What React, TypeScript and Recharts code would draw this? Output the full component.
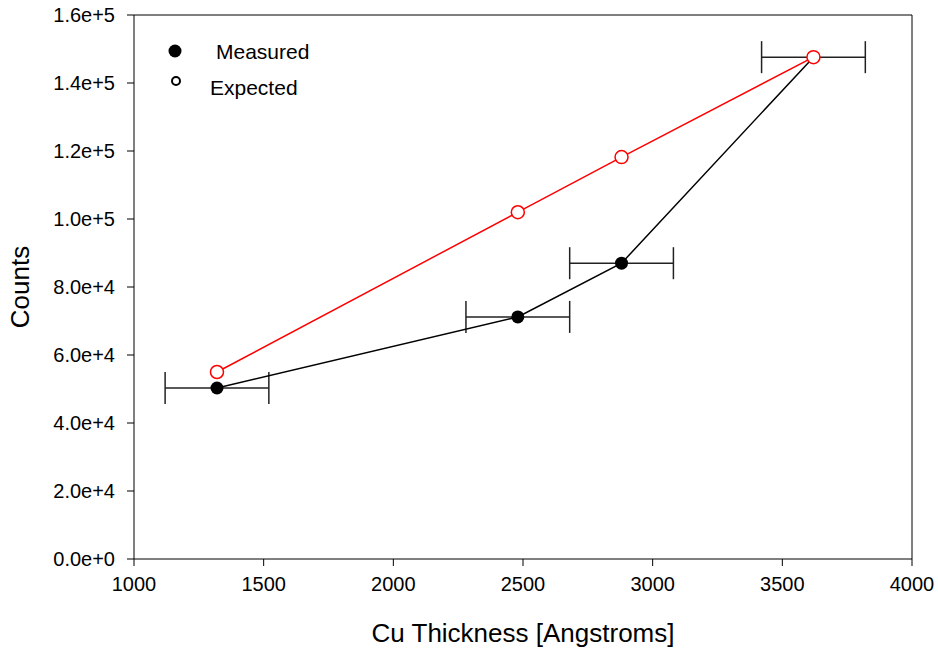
import { ScatterChart, Scatter, XAxis, YAxis, ErrorBar, ReferenceLine, Label } from "recharts"

const thickness = [1320, 2480, 2880, 3620]
const measured = [50300, 71200, 87000, 147600]
const expected = [55000, 102000, 118200, 147600]
const thicknessErr = [200, 200, 200, 200]
const xTicks = [1000, 1500, 2000, 2500, 3000, 3500, 4000]
const yTicks = [0, 20000, 40000, 60000, 80000, 100000, 120000, 140000, 160000]

const measuredData = thickness.map((x, i) => ({ x, y: measured[i], err: thicknessErr[i] }))
const expectedData = thickness.map((x, i) => ({ x, y: expected[i] }))

const font = "Arial, 'Liberation Sans', sans-serif"

const formatSci = (v: number) => {
  if (v === 0) return "0.0e+0"
  const exp = Math.floor(Math.log10(v))
  const mant = v / Math.pow(10, exp)
  return `${mant.toFixed(1)}e+${exp}`
}

const FilledDot = (props: any) => <circle cx={props.cx} cy={props.cy} r={6.5} fill="#000" />
const OpenDot = (props: any) => (
  <circle cx={props.cx} cy={props.cy} r={6.5} fill="#fff" stroke="#ff0000" strokeWidth={1.5} />
)

// legend drawn as an overlay, top-left inside the frame
const LegendBox = () => (
  <svg width={320} height={110} style={{ position: "absolute", left: 0, top: 0, fontFamily: font, pointerEvents: "none" }}>
    <circle cx={175} cy={51} r={6.5} fill="#000" />
    <text x={216} y={59} fontSize={21} fill="#000">Measured</text>
    <circle cx={176} cy={81} r={4} fill="#fff" stroke="#000" strokeWidth={2} />
    <text x={210} y={95} fontSize={21} fill="#000">Expected</text>
  </svg>
)

export default function App() {
  return (
    <div style={{ position: "absolute", left: 0, top: 0, width: 938, height: 654, background: "#fff" }}>
      <ScatterChart width={938} height={654} margin={{ top: 15, right: 26, bottom: 0, left: 0 }}>
        <XAxis
          type="number"
          dataKey="x"
          domain={[1000, 4000]}
          ticks={xTicks}
          height={95}
          stroke="#000"
          tickSize={7}
          tick={{ fill: "#000", fontSize: 20, fontFamily: font }}
          tickMargin={11}
          allowDataOverflow
        >
          <Label value="Cu Thickness [Angstroms]" position="insideBottom" offset={12} style={{ fontSize: 26, fill: "#000", fontFamily: font }} />
        </XAxis>
        <YAxis
          type="number"
          dataKey="y"
          domain={[0, 160000]}
          ticks={yTicks}
          width={134}
          stroke="#000"
          tickSize={7}
          tickMargin={12}
          tickFormatter={formatSci}
          tick={{ fill: "#000", fontSize: 20, fontFamily: font }}
          allowDataOverflow
        >
          <Label value="Counts" angle={-90} position="insideLeft" offset={20} style={{ fontSize: 26, fill: "#000", fontFamily: font, textAnchor: "middle" }} />
        </YAxis>
        <ReferenceLine y={160000} stroke="#000" ifOverflow="visible" />
        <ReferenceLine x={4000} stroke="#000" ifOverflow="visible" />
        <Scatter
          name="Measured"
          data={measuredData}
          line={{ stroke: "#000", strokeWidth: 1.5 }}
          shape={<FilledDot />}
          isAnimationActive={false}
        >
          <ErrorBar dataKey="err" direction="x" width={16} stroke="#222" strokeWidth={1.5} />
        </Scatter>
        <Scatter
          name="Expected"
          data={expectedData}
          line={{ stroke: "#ff0000", strokeWidth: 1.5 }}
          shape={<OpenDot />}
          isAnimationActive={false}
        />
      </ScatterChart>
      <LegendBox />
    </div>
  )
}
